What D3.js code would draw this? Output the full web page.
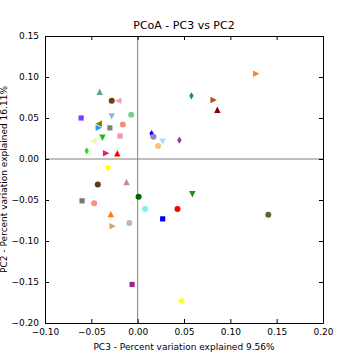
<!DOCTYPE html>
<html><head><meta charset="utf-8">
<script src="https://cdn.jsdelivr.net/npm/d3@7"></script>
<style>body{margin:0;background:#fff}svg{display:block}text{font-family:"DejaVu Sans",sans-serif;fill:#000}</style>
</head><body><div id="chart"></div>
<script>
const title = "PCoA - PC3 vs PC2";
const xLabel = "PC3 - Percent variation explained 9.56%";
const yLabel = "PC2 - Percent variation explained 16.11%";
const xTicks = [-0.10, -0.05, 0.00, 0.05, 0.10, 0.15, 0.20];
const yTicks = [-0.20, -0.15, -0.10, -0.05, 0.00, 0.05, 0.10, 0.15];

const pc3 = [0.128, 0.058, 0.082, 0.086, -0.041, -0.028, -0.021, -0.061, -0.028, -0.007,
  -0.042, -0.030, -0.042, -0.016, -0.038, -0.019, -0.048, -0.055, -0.034, -0.022,
  0.015, 0.017, 0.027, 0.022, 0.045, -0.032, -0.043, -0.012, 0.001, 0.059,
  -0.060, -0.047, 0.008, 0.043, -0.029, 0.027, -0.009, -0.027, 0.141, -0.006, 0.046];
const pc2 = [0.104, 0.077, 0.072, 0.060, 0.082, 0.071, 0.071, 0.050, 0.052, 0.054,
  0.043, 0.038, 0.038, 0.042, 0.026, 0.028, 0.022, 0.010, 0.007, 0.007,
  0.031, 0.027, 0.021, 0.016, 0.023, -0.012, -0.031, -0.028, -0.046, -0.043,
  -0.051, -0.054, -0.061, -0.061, -0.067, -0.073, -0.078, -0.082, -0.068, -0.153, -0.173];
const markers = ["right","diamond","right","up","up","circle","left","square","down","circle",
  "left","square","right","circle","down","circle","left","diamond","right","up",
  "diamond","circle","down","circle","diamond","down","circle","up","circle","down",
  "square","circle","circle","circle","up","square","circle","right","circle","square","left"];
const colors = ["#f5892a","#138a8a","#b5541a","#8b0000","#5fa3a0","#6b3e0f","#f4a0b8","#7b3cff","#8db4e2","#7ccb92",
  "#808000","#808080","#1e9fff","#f4907a","#13c113","#f49ac2","#f3f3a6","#22dd22","#e8178a","#ff0000",
  "#0000ff","#9b7fd0","#99e5f0","#fcc080","#8e3a9c","#ffff00","#5a3a10","#c48a9a","#006400","#228b22",
  "#777777","#fa8f7a","#7fefef","#ff0000","#ff7f00","#0000ff","#bbbbbb","#d2a67a","#556b2f","#93278f","#ffff00"];

const W = 360, H = 360;
const L = 45, R = 323, T = 36, B = 323;
const svg = d3.select("#chart").append("svg").attr("width", W).attr("height", H);
const x = d3.scaleLinear().domain([-0.1, 0.2]).range([L, R]);
const y = d3.scaleLinear().domain([-0.2, 0.15]).range([B, T]);

// zero lines
svg.append("line").attr("x1", x(0)).attr("x2", x(0)).attr("y1", T).attr("y2", B).attr("stroke", "#808080").attr("stroke-width", 1);
svg.append("line").attr("x1", L).attr("x2", R).attr("y1", y(0)).attr("y2", y(0)).attr("stroke", "#808080").attr("stroke-width", 1);

const fmt = d => d3.format(".2f")(d).replace("-", "\u2212");
// axes (ticks inward)
const axB = svg.append("g").attr("transform", `translate(0,${B})`).call(d3.axisBottom(x).tickValues(xTicks).tickFormat(fmt).tickSizeInner(-4).tickSizeOuter(0).tickPadding(6));
const axT = svg.append("g").attr("transform", `translate(0,${T})`).call(d3.axisTop(x).tickValues(xTicks).tickFormat("").tickSizeInner(-4).tickSizeOuter(0));
const axL = svg.append("g").attr("transform", `translate(${L},0)`).call(d3.axisLeft(y).tickValues(yTicks).tickFormat(fmt).tickSizeInner(-4).tickSizeOuter(0).tickPadding(6));
const axR = svg.append("g").attr("transform", `translate(${R},0)`).call(d3.axisRight(y).tickValues(yTicks).tickFormat("").tickSizeInner(-4).tickSizeOuter(0));
[axB, axT, axL, axR].forEach(g => {
  g.selectAll("path.domain").attr("stroke", "#000").attr("stroke-width", 1);
  g.selectAll(".tick line").attr("stroke", "#000");
  g.selectAll("text").attr("font-size", 9).attr("font-family", "DejaVu Sans, sans-serif").attr("fill", "#000");
});

// markers
function markerPath(kind) {
  const s = 3.2;
  switch (kind) {
    case "up": return `M0,${-s}L${s},${s}L${-s},${s}Z`;
    case "down": return `M0,${s}L${s},${-s}L${-s},${-s}Z`;
    case "left": return `M${-s},0L${s},${-s}L${s},${s}Z`;
    case "right": return `M${s},0L${-s},${-s}L${-s},${s}Z`;
    case "diamond": return `M0,${-3.6}L2.2,0L0,3.6L-2.2,0Z`;
    case "square": return `M-2.6,-2.6H2.6V2.6H-2.6Z`;
  }
  return null;
}
const pts = svg.append("g");
pc3.forEach((v, i) => {
  const cx = x(v), cy = y(pc2[i]);
  if (markers[i] === "circle") {
    pts.append("circle").attr("cx", cx).attr("cy", cy).attr("r", 3).attr("fill", colors[i]);
  } else {
    pts.append("path").attr("d", markerPath(markers[i])).attr("transform", `translate(${cx},${cy})`).attr("fill", colors[i]);
  }
});

svg.append("text").attr("x", (L + R) / 2).attr("y", 29).attr("text-anchor", "middle").attr("font-size", 11).text(title);
svg.append("text").attr("x", (L + R) / 2).attr("y", 350).attr("text-anchor", "middle").attr("font-size", 9).text(xLabel);
svg.append("text").attr("transform", `translate(7,${(T + B) / 2}) rotate(-90)`).attr("text-anchor", "middle").attr("font-size", 9).text(yLabel);
</script></body></html>
